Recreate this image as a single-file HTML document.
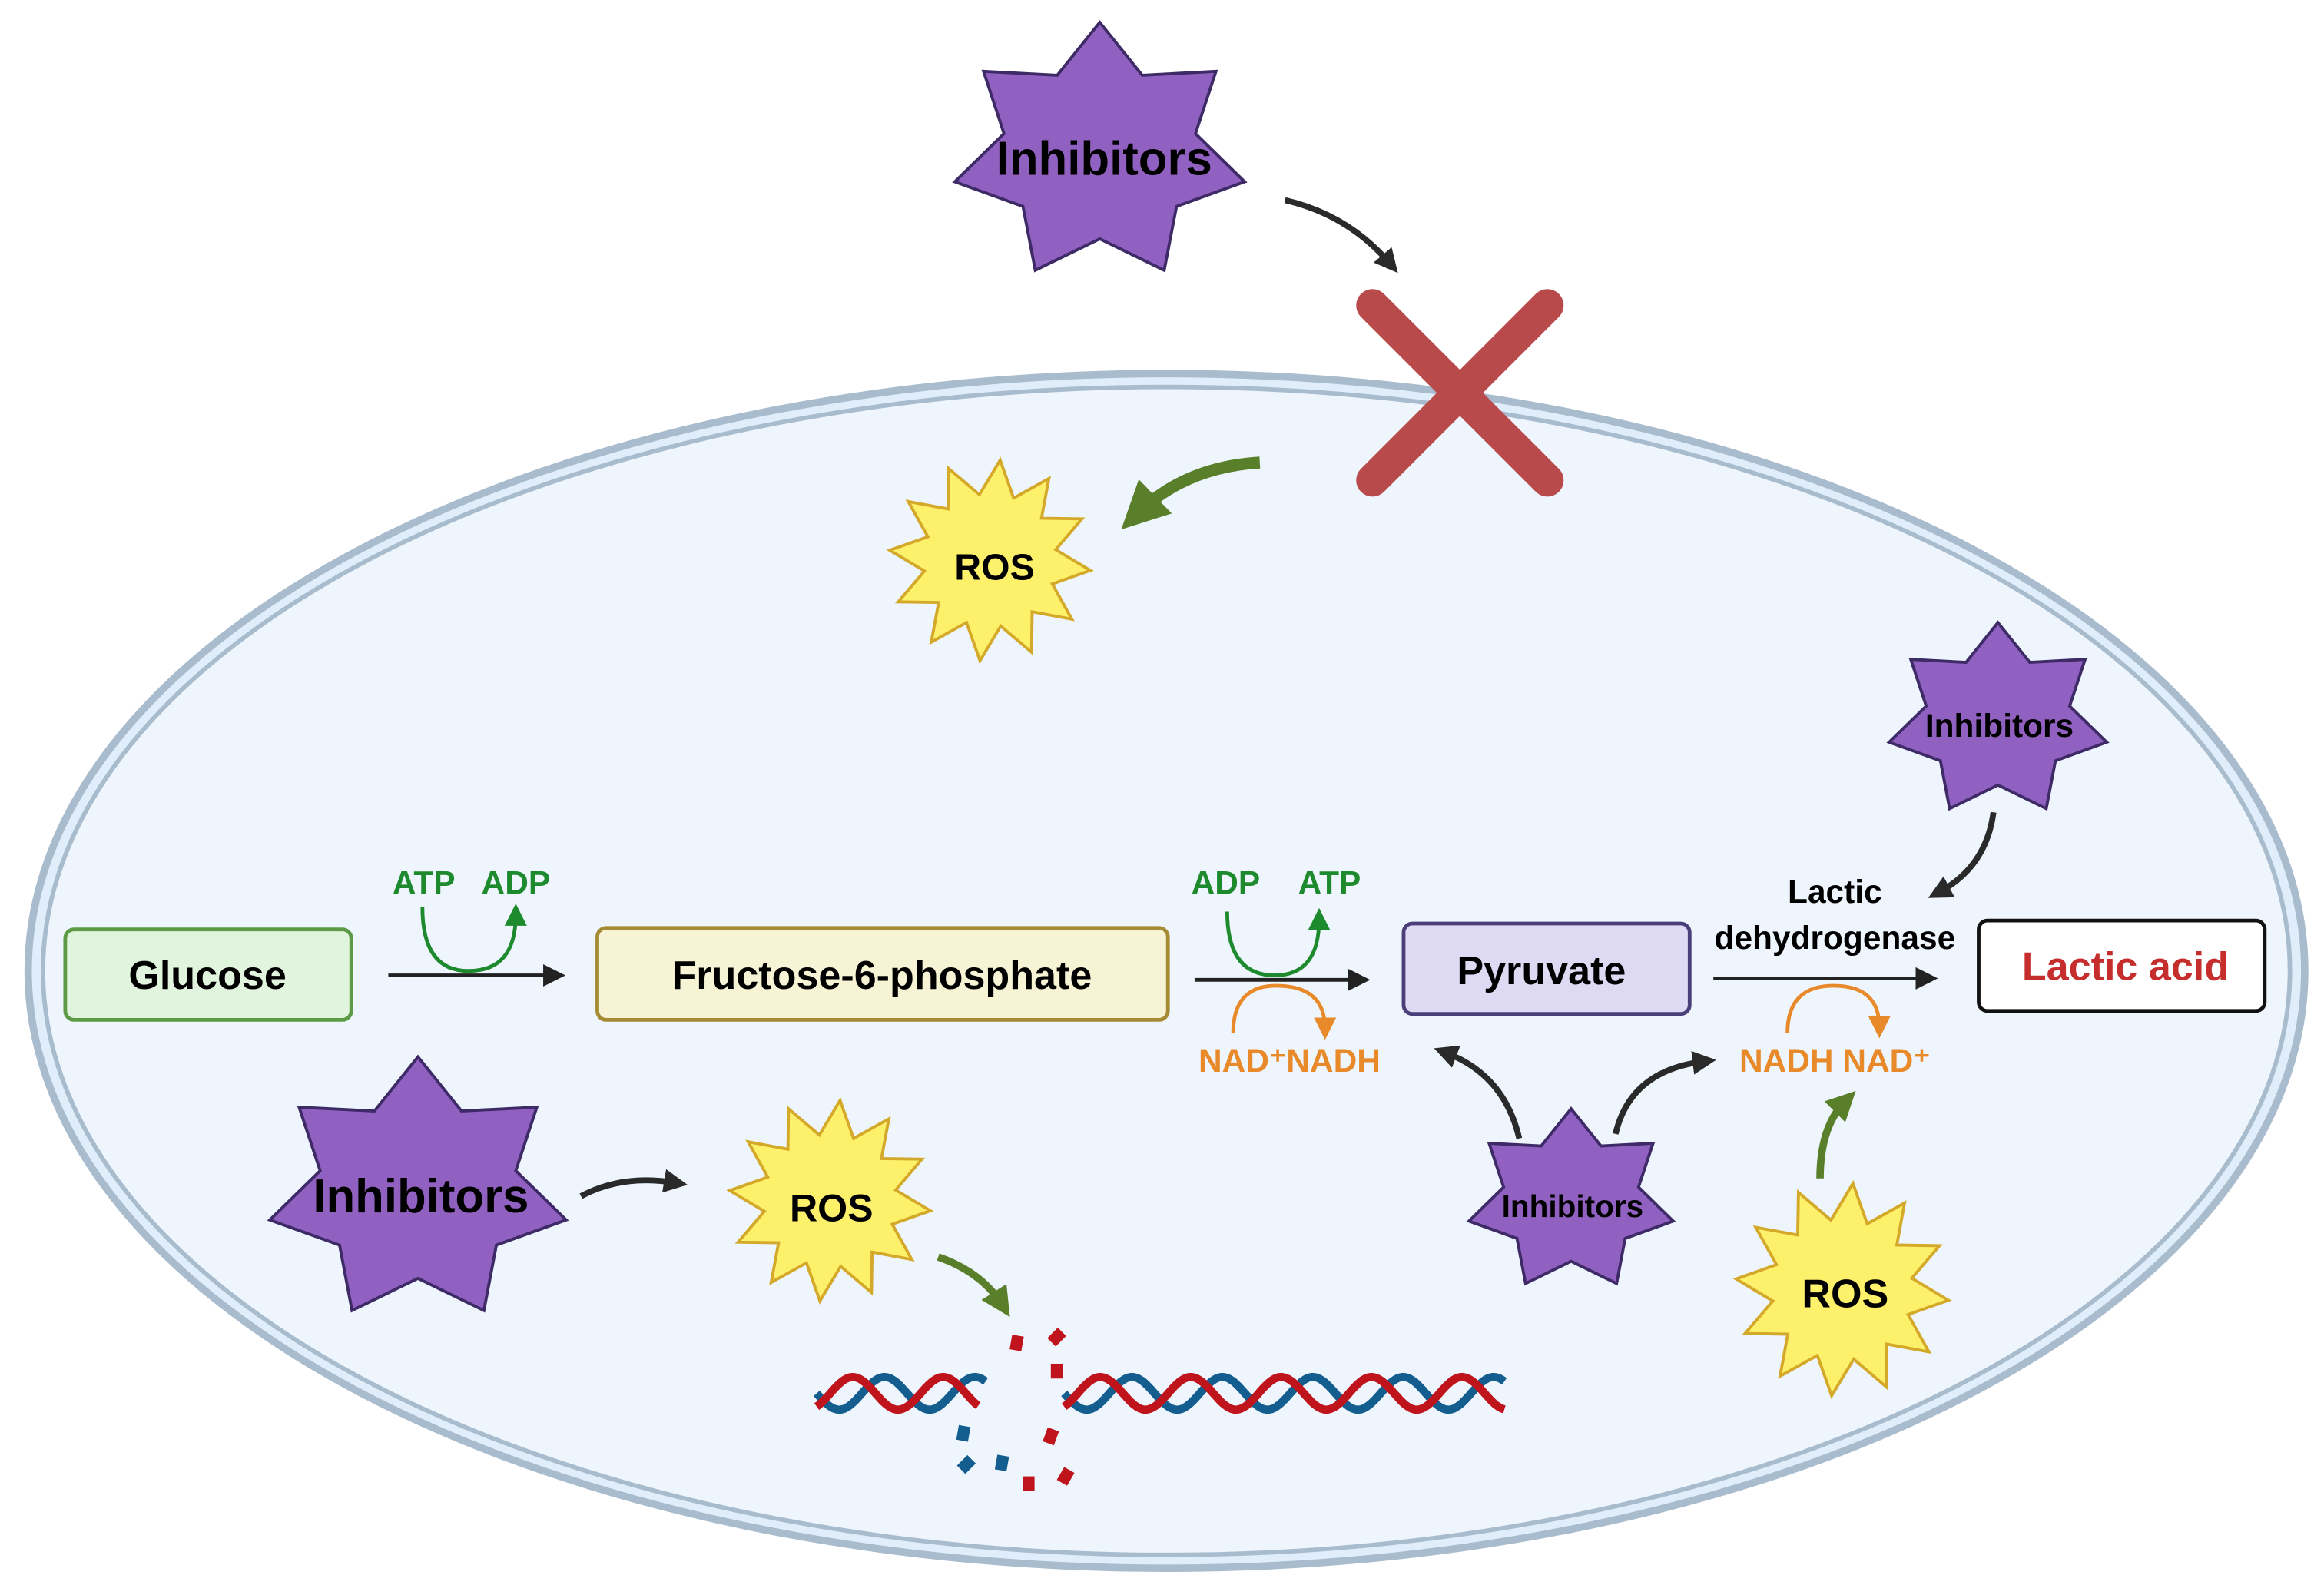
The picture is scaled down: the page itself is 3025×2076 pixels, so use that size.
<!DOCTYPE html>
<html><head><meta charset="utf-8">
<style>
html,body{margin:0;padding:0;background:#fff;}
svg{display:block;}
text{font-family:"Liberation Sans",sans-serif;font-weight:bold;}
</style></head>
<body>
<svg id="s" width="3025" height="2076" viewBox="0 0 1568 1076" xmlns="http://www.w3.org/2000/svg">
<defs>
<marker id="ab" markerWidth="6" markerHeight="6" refX="3" refY="3" orient="auto" markerUnits="strokeWidth"><path d="M0,0 L6,3 L0,6 z" fill="#222"/></marker>
<marker id="ag" markerWidth="4" markerHeight="4" refX="2" refY="2" orient="auto" markerUnits="strokeWidth"><path d="M0,0 L4,2 L0,4 z" fill="#5a7f2a"/></marker>
<marker id="ad" markerWidth="4" markerHeight="4" refX="2" refY="2" orient="auto" markerUnits="strokeWidth"><path d="M0,0 L4,2 L0,4 z" fill="#2a2a2a"/></marker>
<marker id="agr" markerWidth="6" markerHeight="6" refX="3" refY="3" orient="auto" markerUnits="strokeWidth"><path d="M0,0 L6,3 L0,6 z" fill="#1e8a2e"/></marker>
<marker id="aor" markerWidth="6" markerHeight="6" refX="3" refY="3" orient="auto" markerUnits="strokeWidth"><path d="M0,0 L6,3 L0,6 z" fill="#e8892a"/></marker>
</defs>
<rect width="1568" height="1076" fill="#fff"/>
<ellipse cx="787" cy="655" rx="768" ry="403" fill="#dfeefa" stroke="#a9bccd" stroke-width="5"/>
<ellipse cx="787" cy="655" rx="758" ry="394" fill="#eef5fd" stroke="#a9bccd" stroke-width="3"/>
<g id="g"></g>

<g stroke="#b94a4b" stroke-width="22" stroke-linecap="round">
<line x1="926" y1="206" x2="1044" y2="324"/><line x1="1044" y1="206" x2="926" y2="324"/></g>

<path d="M867,135 Q910,145 938,178" fill="none" stroke="#2a2a2a" stroke-width="4" marker-end="url(#ad)"/>
<path d="M850,312 Q800,315 768,346" fill="none" stroke="#5a7f2a" stroke-width="8" marker-end="url(#ag)"/>

<rect x="44" y="627" width="193" height="61" rx="6" fill="#e1f4dd" stroke="#5c9a45" stroke-width="2.5"/>
<text x="140" y="667" font-size="27" text-anchor="middle">Glucose</text>
<rect x="403" y="626" width="385" height="62" rx="6" fill="#f6f4d4" stroke="#a58b34" stroke-width="2.5"/>
<text x="595" y="667" font-size="27" text-anchor="middle">Fructose-6-phosphate</text>
<rect x="947" y="623" width="193" height="61" rx="6" fill="#dedaf4" stroke="#4a3f7a" stroke-width="2.5"/>
<text x="1040" y="664" font-size="27" text-anchor="middle">Pyruvate</text>
<rect x="1335" y="621" width="193" height="61" rx="6" fill="#fff" stroke="#111" stroke-width="2.5"/>
<text x="1434" y="661" font-size="27" text-anchor="middle" fill="#c62e2e">Lactic acid</text>

<line x1="262" y1="658" x2="374" y2="658" stroke="#222" stroke-width="2.5" marker-end="url(#ab)"/>
<line x1="806" y1="661" x2="917" y2="661" stroke="#222" stroke-width="2.5" marker-end="url(#ab)"/>
<line x1="1156" y1="660" x2="1300" y2="660" stroke="#222" stroke-width="2.5" marker-end="url(#ab)"/>

<text x="286" y="603" font-size="22" fill="#1e8a2e" text-anchor="middle">ATP</text>
<text x="348" y="603" font-size="22" fill="#1e8a2e" text-anchor="middle">ADP</text>
<path d="M285,612 Q285,655 316,655 Q348,655 348,617" fill="none" stroke="#1e8a2e" stroke-width="2.5" marker-end="url(#agr)"/>
<text x="827" y="603" font-size="22" fill="#1e8a2e" text-anchor="middle">ADP</text>
<text x="897" y="603" font-size="22" fill="#1e8a2e" text-anchor="middle">ATP</text>
<path d="M828,615 Q828,658 860,658 Q890,658 890,620" fill="none" stroke="#1e8a2e" stroke-width="2.5" marker-end="url(#agr)"/>
<path d="M832,697 Q832,665 861,665 Q894,665 894,694" fill="none" stroke="#e8892a" stroke-width="2.5" marker-end="url(#aor)"/>
<text x="870" y="723" font-size="22" fill="#e8892a" text-anchor="middle">NAD⁺NADH</text>
<text x="1238" y="609" font-size="22" text-anchor="middle">Lactic</text>
<text x="1238" y="640" font-size="22" text-anchor="middle">dehydrogenase</text>
<path d="M1206,697 Q1206,665 1237,665 Q1268,665 1268,693" fill="none" stroke="#e8892a" stroke-width="2.5" marker-end="url(#aor)"/>
<text x="1238" y="723" font-size="22" fill="#e8892a" text-anchor="middle">NADH NAD⁺</text>

<path d="M1345,548 Q1340,585 1308,602" fill="none" stroke="#2a2a2a" stroke-width="4" marker-end="url(#ad)"/>
<path d="M1025,768 Q1015,725 975,710" fill="none" stroke="#2a2a2a" stroke-width="4" marker-end="url(#ad)"/>
<path d="M1090,765 Q1100,722 1150,716" fill="none" stroke="#2a2a2a" stroke-width="4" marker-end="url(#ad)"/>
<path d="M1228,795 Q1228,760 1245,743" fill="none" stroke="#5a7f2a" stroke-width="5" marker-end="url(#ag)"/>
<path d="M392,807 Q420,792 456,798" fill="none" stroke="#2a2a2a" stroke-width="4" marker-end="url(#ad)"/>
<path d="M633,848 Q662,858 676,880" fill="none" stroke="#5a7f2a" stroke-width="5" marker-end="url(#ag)"/>

<g id="dna"></g>
<g id="labels">
<text x="745" y="118" font-size="32" text-anchor="middle">Inhibitors</text>
<text x="284" y="818" font-size="32" text-anchor="middle">Inhibitors</text>
<text x="1349" y="497" font-size="22" text-anchor="middle">Inhibitors</text>
<text x="1061" y="821" font-size="21" text-anchor="middle">Inhibitors</text>
<text x="671" y="391" font-size="25" text-anchor="middle">ROS</text>
<text x="561" y="824" font-size="26" text-anchor="middle">ROS</text>
<text x="1245" y="882" font-size="27" text-anchor="middle">ROS</text>
</g>
</svg>
<script>
var NS="http://www.w3.org/2000/svg",g=document.getElementById('g');
function poly(cx,cy,n,ro,ri,rot,sx,fill,stroke,sw){var p=[];for(var i=0;i<2*n;i++){var r=i%2?ri:ro;var a=rot+Math.PI*i/n;p.push((cx+sx*r*Math.sin(a)).toFixed(1)+","+(cy-r*Math.cos(a)).toFixed(1));}
var e=document.createElementNS(NS,'polygon');e.setAttribute('points',p.join(' '));e.setAttribute('fill',fill);e.setAttribute('stroke',stroke);e.setAttribute('stroke-width',sw);g.appendChild(e);}
function star(cx,cy,r){poly(cx,cy,7,r,r*0.66,0,1.14,'#9061c0','#3d2a66',2);}
function burst(cx,cy,r){poly(cx,cy,12,r,r*0.66,0.1,1,'#fdf06a','#d4a92a',2);}
star(742,103,88);star(282,803,90);star(1348,486,66);star(1060,810,62);
burst(668,378,68);burst(560,810,68);burst(1243,870,72);
var d=document.getElementById('dna');
function helix(x0,x1,cy,ph,col){var s="";for(var x=x0;x<=x1;x+=1){var y=cy+11*Math.sin((x-x0)/61*2*Math.PI+ph);s+=(x==x0?"M":"L")+x+","+y.toFixed(1);}
var e=document.createElementNS(NS,'path');e.setAttribute('d',s);e.setAttribute('fill','none');e.setAttribute('stroke',col);e.setAttribute('stroke-width',5.5);d.appendChild(e);}
helix(551,665,940,0,'#135e8e');helix(551,660,940,2.2,'#c0141c');
helix(718,1015,940,0,'#135e8e');helix(718,1015,940,2.2,'#c0141c');
var fr=[[686,906,'#c0141c',10],[713,902,'#c0141c',45],[713,925,'#c0141c',0],[709,969,'#c0141c',20],[719,996,'#c0141c',30],[694,1001,'#c0141c',0],[652,988,'#135e8e',45],[676,987,'#135e8e',10],[650,967,'#135e8e',10]];
fr.forEach(function(f){var e=document.createElementNS(NS,'rect');e.setAttribute('x',f[0]-4);e.setAttribute('y',f[1]-5);e.setAttribute('width',8);e.setAttribute('height',10);e.setAttribute('fill',f[2]);e.setAttribute('transform','rotate('+f[3]+' '+f[0]+' '+f[1]+')');d.appendChild(e);});
</script>
</body></html>
